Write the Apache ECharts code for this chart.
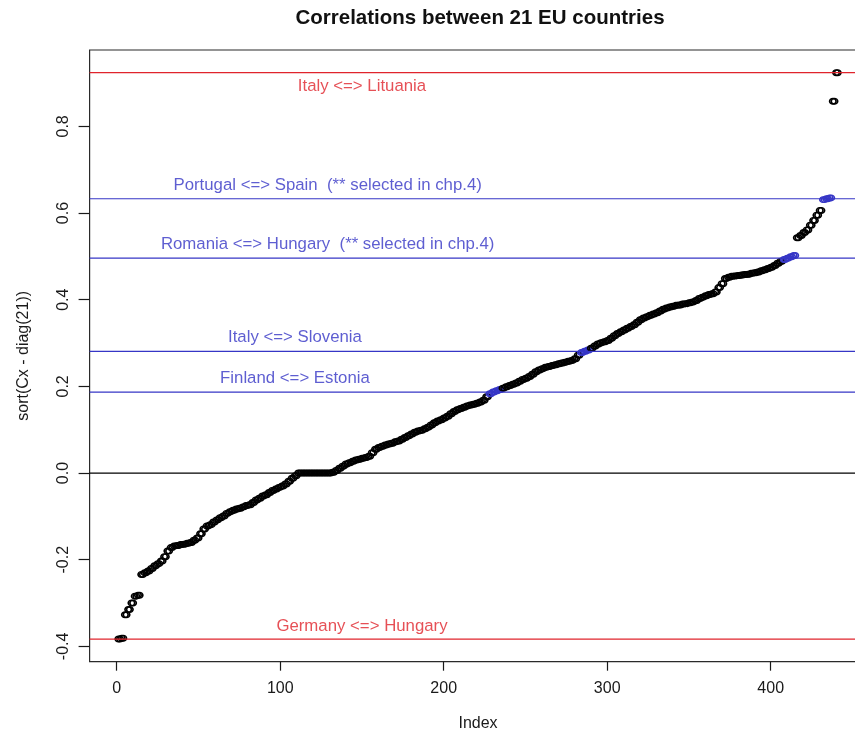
<!DOCTYPE html>
<html>
<head>
<meta charset="utf-8">
<script src="https://cdn.jsdelivr.net/npm/echarts@6/dist/echarts.min.js"></script>
<style>
  html, body { margin: 0; padding: 0; background: #ffffff; }
  #chart { width: 855px; height: 731px; }
</style>
</head>
<body>
<div id="chart"></div>
<script>
// sort(Cx - diag(21)): every off-diagonal correlation appears twice (symmetric matrix),
// the 21 diagonal entries become 0. Index runs 1..441.
const sortedCorr = [
  -0.383, -0.383, -0.381, -0.381, -0.327, -0.327, -0.315, -0.315, -0.300, -0.300,
  -0.284, -0.284, -0.282, -0.282, -0.234, -0.234, -0.230, -0.230, -0.226, -0.226,
  -0.220, -0.220, -0.214, -0.214, -0.209, -0.209, -0.203, -0.203, -0.193, -0.193,
  -0.180, -0.180, -0.172, -0.172, -0.168, -0.168, -0.167, -0.167, -0.165, -0.165,
  -0.164, -0.164, -0.162, -0.162, -0.160, -0.160, -0.155, -0.155, -0.150, -0.150,
  -0.140, -0.140, -0.129, -0.129, -0.122, -0.122, -0.119, -0.119, -0.113, -0.113,
  -0.108, -0.108, -0.103, -0.103, -0.099, -0.099, -0.093, -0.093, -0.089, -0.089,
  -0.086, -0.086, -0.083, -0.083, -0.081, -0.081, -0.078, -0.078, -0.075, -0.075,
  -0.073, -0.073, -0.068, -0.068, -0.062, -0.062, -0.058, -0.058, -0.053, -0.053,
  -0.050, -0.050, -0.045, -0.045, -0.040, -0.040, -0.037, -0.037, -0.033, -0.033,
  -0.030, -0.030, -0.025, -0.025, -0.019, -0.019, -0.012, -0.012, -0.006, -0.006,
  0, 0, 0, 0, 0, 0, 0, 0, 0, 0, 0, 0, 0, 0, 0, 0, 0, 0, 0, 0, 0,
  0.002, 0.002, 0.006, 0.006, 0.011, 0.011, 0.016, 0.016, 0.021, 0.021,
  0.024, 0.024, 0.027, 0.027, 0.030, 0.030, 0.032, 0.032, 0.034, 0.034,
  0.036, 0.036, 0.039, 0.039, 0.047, 0.047, 0.055, 0.055, 0.059, 0.059,
  0.062, 0.062, 0.065, 0.065, 0.067, 0.067, 0.069, 0.069, 0.072, 0.072,
  0.074, 0.074, 0.078, 0.078, 0.082, 0.082, 0.086, 0.086, 0.090, 0.090,
  0.094, 0.094, 0.097, 0.097, 0.099, 0.099, 0.102, 0.102, 0.106, 0.106,
  0.111, 0.111, 0.116, 0.116, 0.120, 0.120, 0.123, 0.123, 0.127, 0.127,
  0.131, 0.131, 0.137, 0.137, 0.142, 0.142, 0.146, 0.146, 0.149, 0.149,
  0.152, 0.152, 0.155, 0.155, 0.157, 0.157, 0.159, 0.159, 0.161, 0.161,
  0.164, 0.164, 0.168, 0.168, 0.176, 0.176, 0.183, 0.183, 0.187, 0.187,
  0.190, 0.190, 0.193, 0.193, 0.196, 0.196, 0.199, 0.199, 0.202, 0.202,
  0.205, 0.205, 0.208, 0.208, 0.212, 0.212, 0.216, 0.216, 0.219, 0.219,
  0.223, 0.223, 0.228, 0.228, 0.234, 0.234, 0.238, 0.238, 0.241, 0.241,
  0.244, 0.244, 0.246, 0.246, 0.248, 0.248, 0.250, 0.250, 0.252, 0.252,
  0.254, 0.254, 0.256, 0.256, 0.258, 0.258, 0.260, 0.260, 0.264, 0.264,
  0.272, 0.272, 0.278, 0.278, 0.281, 0.281, 0.284, 0.284, 0.288, 0.288,
  0.293, 0.293, 0.298, 0.298, 0.301, 0.301, 0.303, 0.303, 0.306, 0.306,
  0.311, 0.311, 0.317, 0.317, 0.322, 0.322, 0.326, 0.326, 0.330, 0.330,
  0.334, 0.334, 0.338, 0.338, 0.342, 0.342, 0.348, 0.348, 0.354, 0.354,
  0.358, 0.358, 0.361, 0.361, 0.364, 0.364, 0.367, 0.367, 0.370, 0.370,
  0.374, 0.374, 0.378, 0.378, 0.381, 0.381, 0.383, 0.383, 0.385, 0.385,
  0.387, 0.387, 0.388, 0.388, 0.390, 0.390, 0.391, 0.391, 0.393, 0.393,
  0.395, 0.395, 0.398, 0.398, 0.403, 0.403, 0.406, 0.406, 0.409, 0.409,
  0.412, 0.412, 0.414, 0.414, 0.418, 0.418, 0.428, 0.428, 0.437, 0.437,
  0.449, 0.449, 0.452, 0.452, 0.454, 0.454, 0.455, 0.455, 0.456, 0.456,
  0.457, 0.457, 0.458, 0.458, 0.459, 0.459, 0.461, 0.461, 0.462, 0.462,
  0.464, 0.464, 0.467, 0.467, 0.469, 0.469, 0.472, 0.472, 0.475, 0.475,
  0.479, 0.479, 0.484, 0.484, 0.489, 0.489, 0.493, 0.493, 0.496, 0.496,
  0.499, 0.499, 0.502, 0.502, 0.543, 0.543, 0.548, 0.548, 0.555, 0.555,
  0.561, 0.561, 0.572, 0.572, 0.583, 0.583, 0.595, 0.595, 0.606, 0.606,
  0.631, 0.631, 0.633, 0.633, 0.635, 0.635, 0.858, 0.858, 0.924, 0.924
];

// Country pairs marked with horizontal reference lines
const pairLabels = [
  'Italy <=> Lituania',
  'Portugal <=> Spain  (** selected in chp.4)',
  'Romania <=> Hungary  (** selected in chp.4)',
  'Italy <=> Slovenia',
  'Finland <=> Estonia',
  'Germany <=> Hungary'
];
const pairValues = [0.924, 0.633, 0.496, 0.281, 0.187, -0.383];
const pairKind = ['extreme', 'selected', 'selected', 'other', 'other', 'extreme'];

const xTicks = [0, 100, 200, 300, 400];
const yTicks = [-0.4, -0.2, 0.0, 0.2, 0.4, 0.6, 0.8];

// ---- layout / style -------------------------------------------------------
const RED = '#e0242c';
const BLUE = '#3636c6';
const INK = '#1a1a1a';
const FONT = "'Liberation Sans', Arial, Helvetica, sans-serif";
const n = sortedCorr.length;
// R-style 4% padding around the data range
const xMin = 1 - 0.04 * (n - 1), xMax = n + 0.04 * (n - 1);
const yLo = Math.min(...sortedCorr), yHi = Math.max(...sortedCorr);
const yMin = yLo - 0.04 * (yHi - yLo), yMax = yHi + 0.04 * (yHi - yLo);
// where each pair label sits along the index axis, and its offset from its line
const labelAnchor = [150, 129, 129, 109, 109, 150];
const labelOffset = [-0.032, 0.031, 0.031, 0.031, 0.031, 0.029];

const lineColor = k => (k === 'extreme' ? RED : BLUE);

const points = sortedCorr.map((v, i) => {
  let c = '#000000';
  pairValues.forEach((pv, j) => {
    if (pairKind[j] !== 'extreme' && Math.abs(v - pv) < 0.0065) c = BLUE;
  });
  return { value: [i + 1, v], itemStyle: { borderColor: c } };
});

// one full-width horizontal line per reference value
const hLine = (v, color) => ({
  type: 'line',
  z: 3,
  silent: true,
  symbol: 'none',
  clip: true,
  lineStyle: { color: color, width: 1.2 },
  data: [[xMin, v], [xMax, v]]
});

const chart = echarts.init(document.getElementById('chart'), null, { renderer: 'canvas' });
chart.setOption({
  animation: false,
  backgroundColor: '#ffffff',
  title: {
    text: 'Correlations between 21 EU countries',
    left: 475,
    top: 3,
    textAlign: 'center',
    textStyle: { fontFamily: FONT, fontWeight: 'bold', fontSize: 20.5, color: '#111' }
  },
  grid: {
    left: 89.6, top: 50, width: 776.9, height: 611.7,
    show: true, borderColor: '#2a2a2a', borderWidth: 1.2, backgroundColor: 'transparent',
    outerBoundsMode: 'none', containLabel: false
  },
  xAxis: {
    type: 'value', min: xMin, max: xMax,
    name: 'Index', nameLocation: 'middle', nameGap: 54,
    nameTextStyle: { fontFamily: FONT, fontSize: 16, color: INK },
    axisLine: { show: false, onZero: false },
    splitLine: { show: false },
    axisTick: { show: true, inside: false, customValues: xTicks, length: 9, lineStyle: { color: INK, width: 1.2 } },
    axisLabel: { customValues: xTicks, margin: 19, fontFamily: FONT, fontSize: 16, color: INK,
      formatter: v => String(Math.round(v)) }
  },
  yAxis: {
    type: 'value', min: yMin, max: yMax,
    name: 'sort(Cx - diag(21))', nameLocation: 'middle', nameGap: 58, nameRotate: 90,
    nameTextStyle: { fontFamily: FONT, fontSize: 16, color: INK },
    axisLine: { show: false, onZero: false },
    splitLine: { show: false },
    axisTick: { show: true, inside: false, customValues: yTicks, length: 11, lineStyle: { color: INK, width: 1.2 } },
    axisLabel: { customValues: yTicks, rotate: 90, margin: 18, fontFamily: FONT, fontSize: 16, color: INK,
      formatter: v => v.toFixed(1) }
  },
  series: [
    {
      type: 'scatter',
      z: 2,
      symbol: 'circle',
      symbolSize: [6.5, 5.6],
      itemStyle: { color: 'rgba(0,0,0,0)', borderColor: '#000', borderWidth: 1.5, opacity: 1 },
      emphasis: { disabled: true },
      data: points
    },
    hLine(0, '#000000')
  ].concat(
    pairValues.map((v, j) => hLine(v, lineColor(pairKind[j]))),
    [{
      // text annotations for each pair
      type: 'scatter',
      z: 4,
      silent: true,
      symbolSize: 0,
      data: pairLabels.map((t, j) => ({
        value: [labelAnchor[j], pairValues[j] + labelOffset[j]],
        label: {
          show: true, position: 'inside', formatter: t,
          fontFamily: FONT, fontSize: 16.8, color: lineColor(pairKind[j])
        }
      }))
    }]
  )
});
</script>
</body>
</html>
